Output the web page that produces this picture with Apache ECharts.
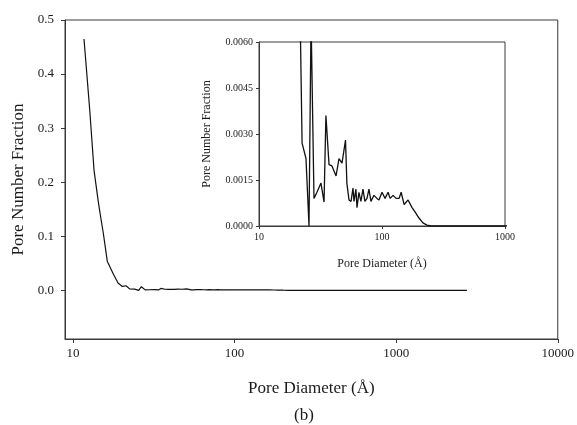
<!DOCTYPE html>
<html>
<head>
<meta charset="utf-8">
<script src="https://cdn.jsdelivr.net/npm/echarts@6/dist/echarts.min.js"></script>
<style>
  html, body { margin: 0; padding: 0; background: #fff; }
  #chart { width: 577px; height: 425px; }
</style>
</head>
<body>
<div id="chart"></div>
<script>
// Pore size distribution: diameter (Å) and number fraction
const diameters = [
  11.7, 12.7, 13.5, 14.3, 14.7, 15.4, 16.3, 17.7, 19.0, 20.2, 21.3,
  22.4, 24.1, 25.5, 26.5, 28.0, 29.6, 31.9, 33.8, 35.0, 37.1, 39.2,
  42.3, 44.7, 47.3, 50.5, 51.8, 53.9, 56.0, 58.1, 59.2, 61.4, 62.6,
  64.9, 67.4, 70.0, 72.6, 75.5, 78.3, 81.3, 86.0, 91.0, 94.5, 100.0,
  105.9, 112.1, 116.4, 123.0, 130.2, 137.8, 143.1, 151.3, 162.9, 175.6,
  186.1, 199.8, 215.2, 231.9, 249.8, 300, 500, 1000, 2000, 2740
];
const fractions = [
  0.465, 0.333, 0.222, 0.167, 0.143, 0.106, 0.054, 0.031, 0.0135, 0.0072, 0.0085,
  0.0027, 0.0022, 0.0, 0.0068, 0.0009, 0.0011, 0.0014, 0.00078, 0.0036, 0.0020, 0.00196,
  0.00163, 0.0022, 0.00205, 0.0028, 0.0014, 0.00085, 0.0008, 0.00124, 0.0008, 0.0012, 0.0006,
  0.0011, 0.0008, 0.0012, 0.0008, 0.0009, 0.0012, 0.0008, 0.0010, 0.0009, 0.00085, 0.0011,
  0.0009, 0.0011, 0.0009, 0.0010, 0.0009, 0.0009, 0.0011, 0.0007, 0.00085, 0.0006,
  0.00045, 0.00026, 0.0001, 0.00003, 0.0, 0.0, 0.0, 0.0, 0.0, 0.0
];

// Tick labels
const mainXTicks = [10, 100, 1000, 10000];
const mainYTicks = [0, 0.1, 0.2, 0.3, 0.4, 0.5];
const insetXTicks = [10, 100, 1000];
const insetYTicks = [0, 0.0015, 0.003, 0.0045, 0.006];

const points = diameters.map((d, i) => [d, fractions[i]]);

const FONT = '"Liberation Serif", "DejaVu Serif", serif';
const AXIS_COLOR = '#3a3a3a';
const TEXT_COLOR = '#1a1a1a';

function xAxisCfg(gridIndex, min, max, ticks, fontSize, margin, tickLen, name, nameSize, nameGap) {
  return {
    type: 'log', gridIndex, min, max, logBase: 10,
    axisLine: { show: true, onZero: false, lineStyle: { color: AXIS_COLOR, width: 1 } },
    axisTick: { show: true, inside: false, length: tickLen, customValues: ticks, lineStyle: { color: AXIS_COLOR } },
    minorTick: { show: false },
    splitLine: { show: false },
    axisLabel: {
      customValues: ticks, margin, fontSize, fontFamily: FONT, color: TEXT_COLOR,
      formatter: v => String(Math.round(v))
    },
    name, nameLocation: 'middle', nameGap,
    nameTextStyle: { fontFamily: FONT, fontSize: nameSize, color: TEXT_COLOR }
  };
}

function yAxisCfg(gridIndex, min, max, ticks, digits, fontSize, margin, tickLen, name, nameSize, nameGap) {
  return {
    type: 'value', gridIndex, min, max,
    axisLine: { show: true, onZero: false, lineStyle: { color: AXIS_COLOR, width: 1 } },
    axisTick: { show: true, inside: false, length: tickLen, customValues: ticks, lineStyle: { color: AXIS_COLOR } },
    splitLine: { show: false },
    axisLabel: {
      customValues: ticks, margin, fontSize, fontFamily: FONT, color: TEXT_COLOR,
      formatter: v => Number(v).toFixed(digits)
    },
    name, nameLocation: 'middle', nameRotate: 90, nameGap,
    nameTextStyle: { fontFamily: FONT, fontSize: nameSize, color: TEXT_COLOR }
  };
}

const chart = echarts.init(document.getElementById('chart'), null, { renderer: 'canvas' });

chart.setOption({
  animation: false,
  backgroundColor: '#ffffff',
  title: {
    text: '(b)', left: 289, top: 402,
    textStyle: { fontFamily: FONT, fontSize: 17, fontWeight: 'normal', color: TEXT_COLOR }
  },
  grid: [
    { left: 65, top: 20, width: 494, height: 319, show: true, borderColor: AXIS_COLOR, borderWidth: 1, backgroundColor: 'transparent' },
    { left: 259, top: 42, width: 246, height: 184, show: true, borderColor: AXIS_COLOR, borderWidth: 1, backgroundColor: 'transparent' }
  ],
  xAxis: [
    xAxisCfg(0, 8.925, 10000, mainXTicks, 13, 8, 4, 'Pore Diameter (Å)', 17, 41),
    xAxisCfg(1, 10, 1000, insetXTicks, 10, 6, 3, 'Pore Diameter (Å)', 12, 32)
  ],
  yAxis: [
    yAxisCfg(0, -0.09, 0.5, mainYTicks, 1, 13, 11, 4, 'Pore Number Fraction', 17, 36),
    yAxisCfg(1, 0, 0.006, insetYTicks, 4, 10, 6, 3, 'Pore Number Fraction', 12, 46)
  ],
  series: [
    {
      type: 'line', xAxisIndex: 0, yAxisIndex: 0, data: points,
      symbol: 'none', clip: true,
      lineStyle: { color: '#111', width: 1.2 }
    },
    {
      type: 'line', xAxisIndex: 1, yAxisIndex: 1, data: points,
      symbol: 'none', clip: true,
      lineStyle: { color: '#111', width: 1.3 }
    }
  ]
});
</script>
</body>
</html>
